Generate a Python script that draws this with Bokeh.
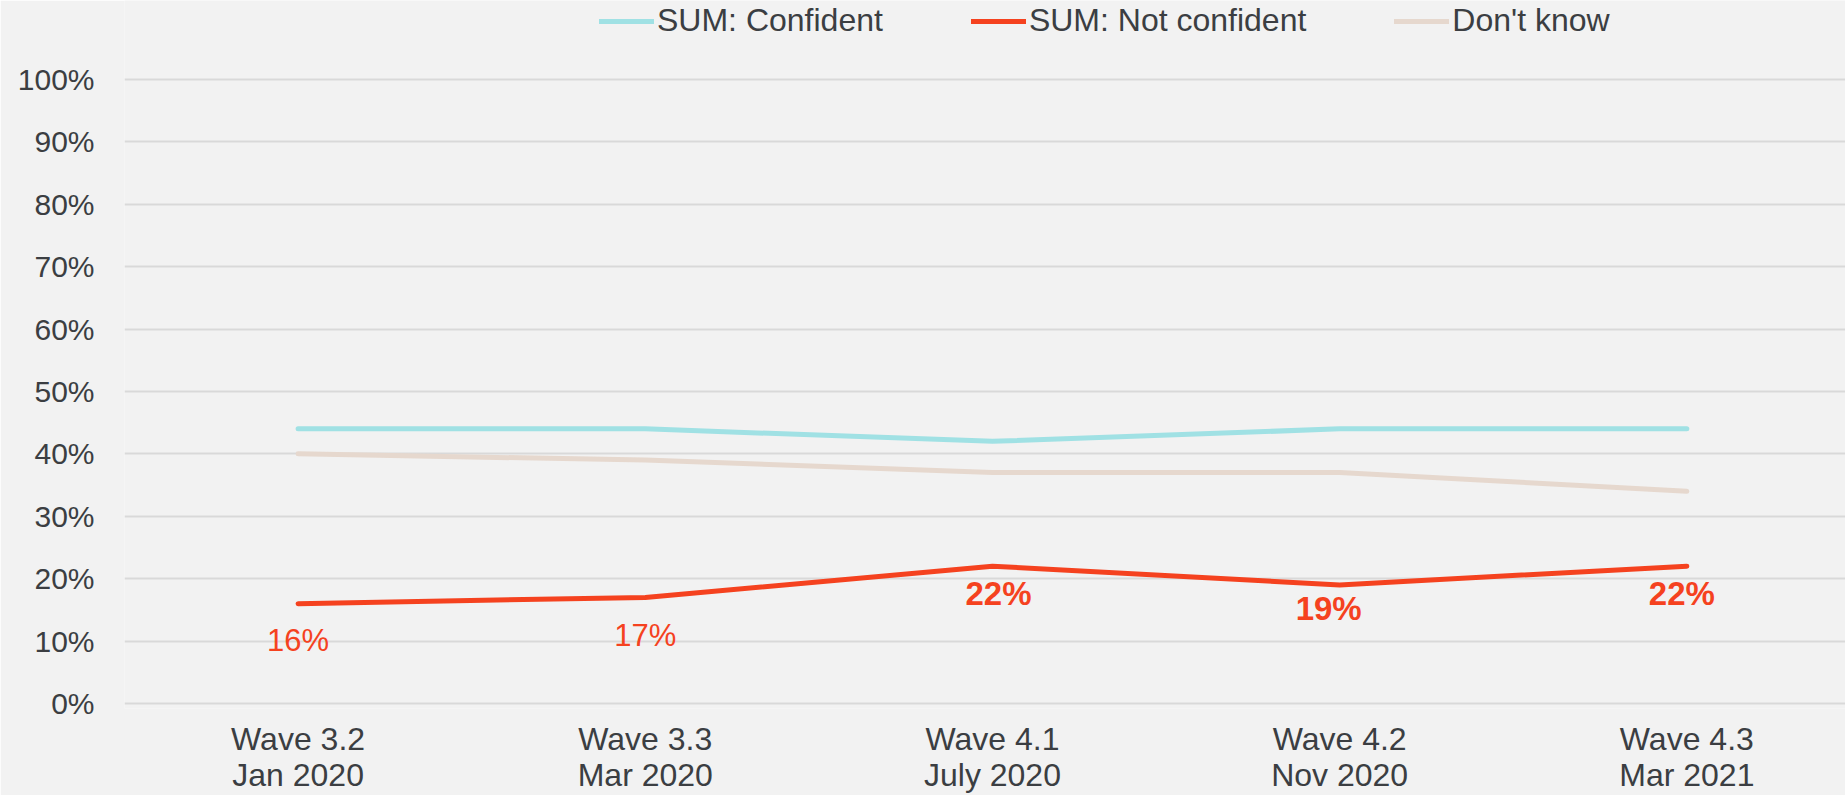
from bokeh.plotting import figure
from bokeh.models import ColumnDataSource, FixedTicker, Legend, LegendItem, Range1d
from bokeh.core.properties import value
from bokeh.embed import file_html
from bokeh.resources import INLINE

# ---- data ----
waves = ["Wave 3.2", "Wave 3.3", "Wave 4.1", "Wave 4.2", "Wave 4.3"]
dates = ["Jan 2020", "Mar 2020", "July 2020", "Nov 2020", "Mar 2021"]
confident = [44, 44, 42, 44, 44]
not_confident = [16, 17, 22, 19, 22]
dont_know = [40, 39, 37, 37, 34]
label_bold = [False, False, True, True, True]
y_ticks = [0, 10, 20, 30, 40, 50, 60, 70, 80, 90, 100]

# ---- style ----
BG = "#F2F2F2"
C_CONF = "#A0E1E4"
C_NOT = "#F5421F"
C_DK = "#E6D8CE"
TXT = "#3B3E42"
FONT = "Liberation Sans"
label_dx = [0, 0, 6, -11, -5]
label_dy = [37, 38, 27, 24, 27]

xs = list(range(len(waves)))

p = figure(width=1845, height=795, output_backend="svg", toolbar_location=None,
           x_range=Range1d(-0.5, 4.457), y_range=Range1d(-0.8, 112.63),
           background_fill_color=BG, border_fill_color=BG,
           min_border_left=124, min_border_right=0, min_border_top=0, min_border_bottom=80)
p.outline_line_color = None

# gridlines
p.xgrid.visible = False
p.ygrid.grid_line_color = "#D9D9D9"
p.ygrid.grid_line_width = 2
p.yaxis.ticker = FixedTicker(ticks=y_ticks)
p.yaxis.major_label_overrides = {t: f"{t}%" for t in y_ticks}
p.yaxis.axis_line_color = None
p.yaxis.major_tick_line_color = None
p.yaxis.minor_tick_line_color = None
p.yaxis.major_label_standoff = 24
p.yaxis.major_label_text_font = FONT
p.yaxis.major_label_text_font_size = "30px"
p.yaxis.major_label_text_color = TXT

p.xaxis.ticker = FixedTicker(ticks=xs)
p.xaxis.major_label_overrides = {i: f"{w}\n{d}" for i, w, d in zip(xs, waves, dates)}
p.xaxis.axis_line_color = None
p.xaxis.major_tick_line_color = None
p.xaxis.minor_tick_line_color = None
p.xaxis.major_label_standoff = 6
p.xaxis.major_label_text_font = FONT
p.xaxis.major_label_text_font_size = "32px"
p.xaxis.major_label_text_color = TXT
p.xaxis.major_label_text_line_height = 1.0

r_conf = p.line(xs, confident, line_color=C_CONF, line_width=5, line_cap="round", line_join="round")
r_not = p.line(xs, not_confident, line_color=C_NOT, line_width=5, line_cap="round", line_join="round")
r_dk = p.line(xs, dont_know, line_color=C_DK, line_width=5, line_cap="round", line_join="round")

# data labels
for bold in (False, True):
    idx = [i for i in xs if label_bold[i] == bold]
    src = ColumnDataSource(dict(
        x=[xs[i] for i in idx], y=[not_confident[i] for i in idx],
        t=[f"{not_confident[i]}%" for i in idx],
        dx=[label_dx[i] for i in idx], dy=[label_dy[i] for i in idx]))
    p.text(x="x", y="y", text="t", x_offset="dx", y_offset="dy", source=src,
           text_font=value(FONT), text_font_size="31px" if not bold else "33px",
           text_font_style="bold" if bold else "normal",
           text_color=C_NOT, text_align="center", text_baseline="middle")

legend = Legend(items=[
    LegendItem(label="SUM: Confident", renderers=[r_conf]),
    LegendItem(label="SUM: Not confident", renderers=[r_not]),
    LegendItem(label="Don't know", renderers=[r_dk]),
], orientation="horizontal", location=(475, 669), background_fill_alpha=0,
    border_line_color=None, padding=0, margin=0, spacing=88,
    glyph_width=55, glyph_height=30, label_height=30, label_standoff=3,
    label_text_font=FONT, label_text_font_size="32px", label_text_color=TXT)
p.add_layout(legend)

open("out.html", "w").write(file_html(p, INLINE))
